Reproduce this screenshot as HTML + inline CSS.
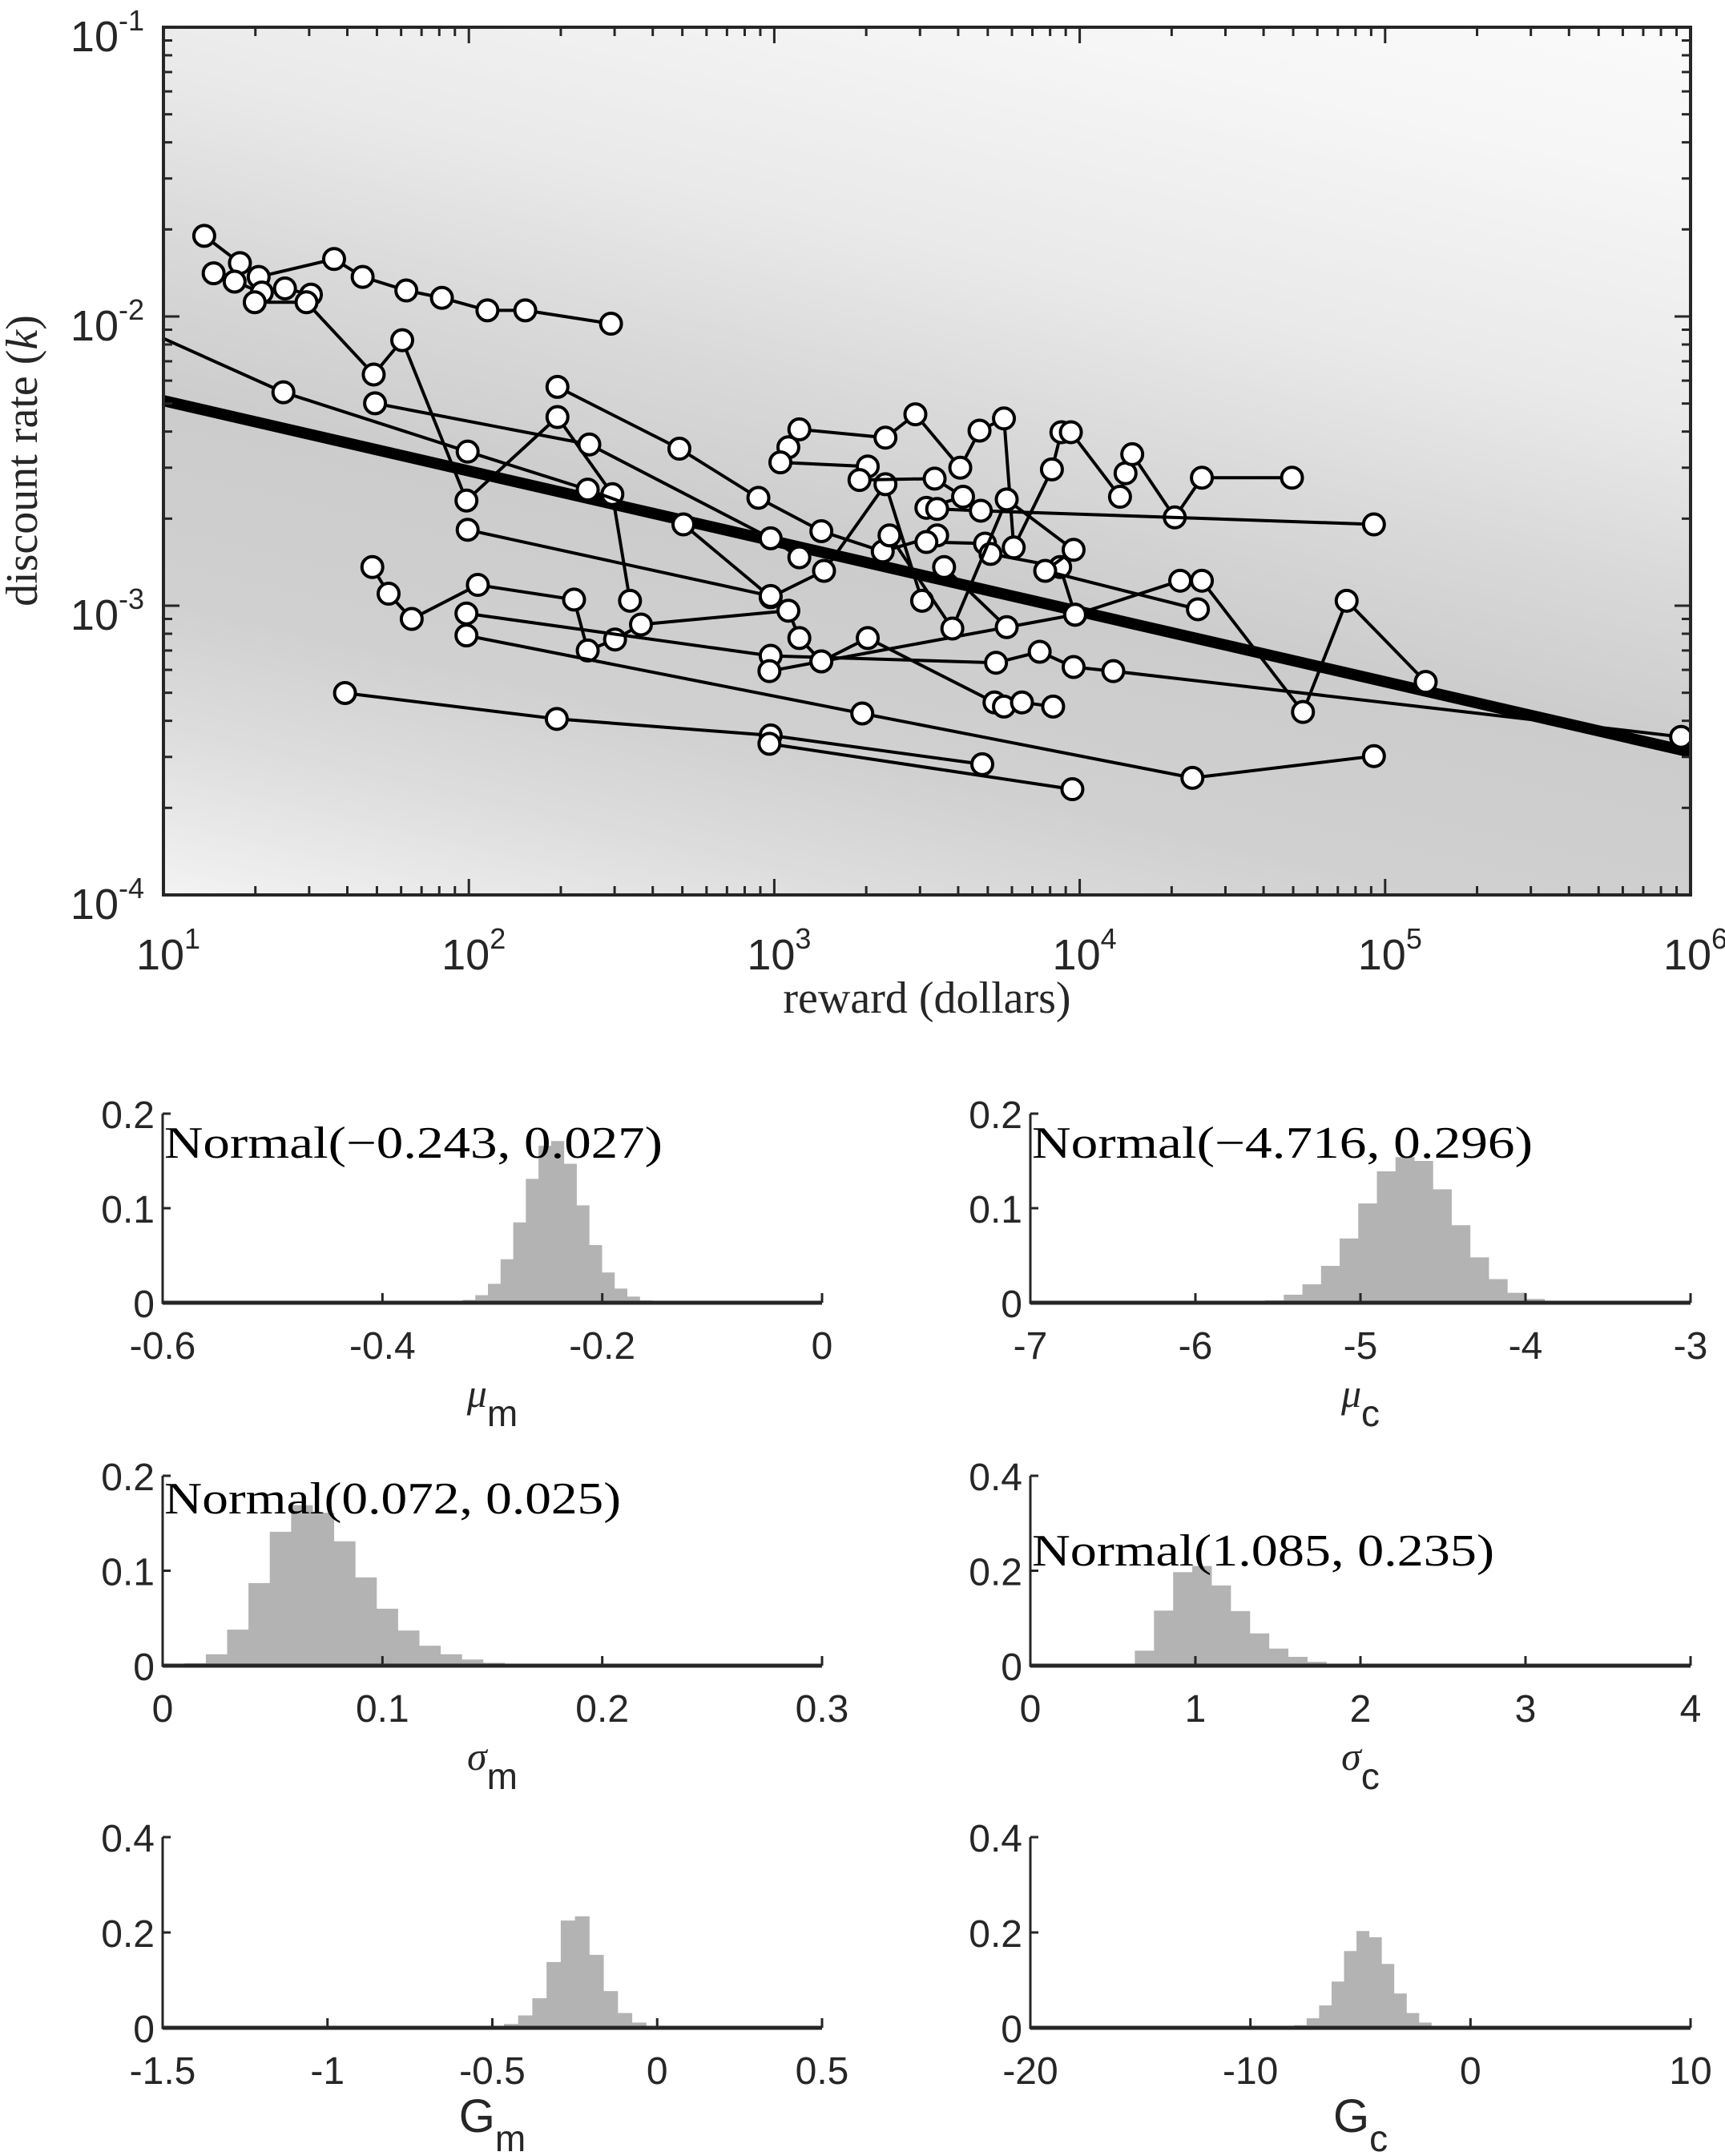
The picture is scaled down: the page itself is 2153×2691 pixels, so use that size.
<!DOCTYPE html>
<html><head><meta charset="utf-8"><style>
html,body{margin:0;padding:0;background:#fff;}
svg{display:block;}
</style></head><body>
<svg id="fig" xmlns="http://www.w3.org/2000/svg" width="2153" height="2691" viewBox="0 0 2153 2691">
<defs>
<clipPath id="mainClip"><rect x="204" y="34" width="1906" height="1083"/></clipPath>
<linearGradient id="bandGrad" gradientUnits="userSpaceOnUse" x1="1381" y1="-255" x2="933" y2="1695">
<stop offset="0" stop-color="#fdfdfd"/><stop offset="0.15" stop-color="#f6f6f6"/>
<stop offset="0.3" stop-color="#e9e9e9"/><stop offset="0.4" stop-color="#d9d9d9"/>
<stop offset="0.5" stop-color="#cccccc"/><stop offset="0.62" stop-color="#d0d0d0"/>
<stop offset="0.7" stop-color="#dddddd"/><stop offset="0.77" stop-color="#ececec"/>
<stop offset="0.82" stop-color="#f7f7f7"/><stop offset="1" stop-color="#ffffff"/>
</linearGradient>
</defs>
<g id="main"></g>
<g id="hists"></g>
</svg>
<script>
// ---- main plot data ----
const meanSlope = -0.243;
const meanIntercept = -4.716; // natural log units
const seriesRewards = [
 [13.6,17.8,20.5,36.2,44.9,62.4,81.6,115,153,292],
 [14.6,17.1,21.0,25.0,30.4],
 [19.9,29.4,48.8,60.5,98.2,195,295,337],
 [7.98,24.7,99.1,245,504,973,1455,2312,3048],
 [49.3,248,973,1208],
 [1208,2312,2897,4064,4699,5649,6081,8110,8710],
 [9355,13550,14130,14860,20470,25120,49550],
 [195,489,887,1426,2265,3414,3148,4898,5105,8630,9660],
 [99.1,973],
 [48.3,54.6,65.0,107,221,245,301,366,1112,1208,1426,2023,5260,5649,6471,8185],
 [98.2,973,5321,7396,9550,12880,931000],
 [964,1426,9660,21330,25120,53830,74820,135800],
 [98.2,1941,23390,91900],
 [39.3,194,973,4797],
 [964,9462],
 [1112,1047,2023,1901,3350,4150,3148,3414,4744,91900],
 [2384,3828,5768,9550,7709,24380],
 [3597,5768]
];
const seriesK = [
 [.0190,.0153,.0137,.0158,.0137,.0123,.0116,.0105,.0105,.00944],
 [.0141,.0132,.0121,.0125,.0119],
 [.0112,.0112,.00630,.00828,.00231,.00449,.00243,.00104],
 [.00934,.00547,.00341,.00252,.00191,.00107,.00132,.00263,.00104],
 [.00501,.00361,.00171,.00147],
 [.00407,.00381,.00459,.00300,.00403,.00444,.00159,.00296,.00398],
 [.00398,.00238,.00287,.00334,.00202,.00277,.00277],
 [.00571,.00349,.00236,.00181,.00154,.00175,.00166,.00164,.00151,.00136,.000931],
 [.00183,.00108],
 [.00136,.00110,.000900,.00118,.00105,.000700,.000764,.000861,.000961,.000773,.000642,.000773,.000463,.000448,.000463,.000448],
 [.000940,.000671,.000635,.000693,.000614,.000594,.000352],
 [.000594,.000642,.000931,.00122,.00122,.000429,.00104,.000545],
 [.000789,.000424,.000254,.000302],
 [.000499,.000406,.000356,.000283],
 [.000333,.000232],
 [.00353,.00313,.00303,.00272,.00275,.00238,.00218,.00216,.00213,.00191],
 [.00175,.000834,.00233,.00156,.00132,.000972],
 [.00136,.000843]
];
const xTickExps = [1,2,3,4,5,6];
const yTickExps = [-1,-2,-3,-4];

// ---- histogram data ----
const histNames = ["mu-m","mu-c","sigma-m","sigma-c","g-m","g-c"];
const histXMin = [-0.6,-7,0,0,-1.5,-20];
const histXMax = [0,-3,0.3,4,0.5,10];
const histYMax = [0.2,0.2,0.2,0.4,0.4,0.4];
const histXTicks = [[-0.6,-0.4,-0.2,0],[-7,-6,-5,-4,-3],[0,0.1,0.2,0.3],[0,1,2,3,4],[-1.5,-1,-0.5,0,0.5],[-20,-10,0,10]];
const histYTicks = [[0,0.1,0.2],[0,0.1,0.2],[0,0.1,0.2],[0,0.2,0.4],[0,0.2,0.4],[0,0.2,0.4]];
const histBinStart = [-0.327,-5.690,0.00995,0.633,-0.508,-8.01];
const histBinWidth = [0.0115,0.1128,0.0097,0.116,0.0431,0.566];
const histCounts = [
 [0.003,0.008,0.020,0.046,0.085,0.131,0.166,0.171,0.147,0.103,0.061,0.032,0.015,0.0065,0.0024],
 [0.0006,0.0025,0.0085,0.0195,0.039,0.068,0.105,0.139,0.154,0.150,0.120,0.082,0.048,0.025,0.0105,0.004,0.001],
 [0.0025,0.012,0.038,0.087,0.141,0.169,0.161,0.131,0.093,0.060,0.037,0.021,0.012,0.0065,0.003,0.001],
 [0.0315,0.116,0.197,0.210,0.169,0.115,0.068,0.036,0.0186,0.008,0.0034,0.001],
 [0.002,0.008,0.026,0.062,0.138,0.225,0.234,0.153,0.077,0.031,0.011,0.003],
 [0.0056,0.020,0.047,0.097,0.161,0.203,0.190,0.134,0.072,0.031,0.011,0.0034]
];
const histAnnot = ["Normal(\u22120.243, 0.027)","Normal(\u22124.716, 0.296)","Normal(0.072, 0.025)","Normal(1.085, 0.235)","",""];
const histLabelMain = ["\u03bc","\u03bc","\u03c3","\u03c3","G","G"];
const histLabelSub = ["m","c","m","c","m","c"];

const NS = "http://www.w3.org/2000/svg";
function mk(tag, attrs, parent){
  const e = document.createElementNS(NS, tag);
  for (const k in attrs) e.setAttribute(k, attrs[k]);
  if (parent) parent.appendChild(e);
  return e;
}
const AX = "#262626";
const SANS = "'Liberation Sans', Arial, sans-serif";
const SERIF = "'Liberation Serif', 'Times New Roman', serif";

// ---- main plot ----
const L=204, R=2110, T=34, B=1117;
const X = r => L + (Math.log10(r) - 1) / 5 * (R - L);
const Y = k => T + (-1 - Math.log10(k)) / 3 * (B - T);
const main = document.getElementById('main');

const bg = mk('rect', {x:L, y:T, width:R-L, height:B-T, fill:'url(#bandGrad)'}, main);



const clipG = mk('g', {'clip-path':'url(#mainClip)'}, main);



const kAt = r => Math.pow(10, meanIntercept / Math.LN10 + meanSlope * Math.log10(r));
const mline = mk('line', {x1:X(10), y1:Y(kAt(10)), x2:X(1e6), y2:Y(kAt(1e6)), stroke:'#000', 'stroke-width':14}, clipG);



seriesRewards.forEach((rs, i) => {
  const ks = seriesK[i];
  const g = mk('g', {}, clipG);
  
  
  const pts = rs.map((r, j) => X(r).toFixed(1) + ',' + Y(ks[j]).toFixed(1)).join(' ');
  const pl = mk('polyline', {points:pts, fill:'none', stroke:'#000', 'stroke-width':4}, g);
  
  
  rs.forEach((r, j) => {
    if (r < 10) return;
    const c = mk('circle', {cx:X(r), cy:Y(ks[j]), r:13, fill:'#fff', stroke:'#000', 'stroke-width':4}, g);
    
    
  });
});

const frame = mk('rect', {x:L, y:T, width:R-L, height:B-T, fill:'none', stroke:AX, 'stroke-width':4}, main);


const ticks = mk('g', {stroke:AX, 'stroke-width':3}, main);


for (let e = 1; e <= 6; e++) {
  for (let m = 1; m <= 9; m++) {
    const v = m * Math.pow(10, e);
    if (e === 6 && m > 1) continue;
    const x = X(v), len = m === 1 ? 20 : 11;
    mk('line', {x1:x, y1:B, x2:x, y2:B-len}, ticks);
    mk('line', {x1:x, y1:T, x2:x, y2:T+len}, ticks);
  }
}
for (let e = -4; e <= -1; e++) {
  for (let m = 1; m <= 9; m++) {
    const v = m * Math.pow(10, e);
    if (e === -1 && m > 1) continue;
    const y = Y(v), len = m === 1 ? 20 : 11;
    mk('line', {x1:L, y1:y, x2:L+len, y2:y}, ticks);
    mk('line', {x1:R, y1:y, x2:R-len, y2:y}, ticks);
  }
}
xTickExps.forEach(e => {
  const t = mk('text', {x:X(Math.pow(10,e)) + 6, y:1210, 'text-anchor':'middle', 'font-family':SANS, 'font-size':54, fill:AX}, main);
  
  
  t.appendChild(document.createTextNode('10'));
  const s = mk('tspan', {dy:-26, 'font-size':36}, t);
  s.textContent = String(e);
});
yTickExps.forEach(e => {
  const t = mk('text', {x:180, y:Y(Math.pow(10,e)) + 30, 'text-anchor':'end', 'font-family':SANS, 'font-size':54, fill:AX}, main);
  
  
  t.appendChild(document.createTextNode('10'));
  const s = mk('tspan', {dy:-26, 'font-size':36}, t);
  s.textContent = String(e);
});
const xl = mk('text', {x:1157, y:1264, 'text-anchor':'middle', 'font-family':SERIF, 'font-size':56, fill:AX}, main);


xl.textContent = 'reward (dollars)';
const yl = mk('text', {x:0, y:0, 'text-anchor':'middle', 'font-family':SERIF, 'font-size':56, fill:AX, transform:'translate(46,575) rotate(-90)'}, main);


yl.appendChild(document.createTextNode('discount rate ('));
const yk = mk('tspan', {'font-style':'italic'}, yl); yk.textContent = 'k';
yl.appendChild(document.createTextNode(')'));

// ---- histograms ----
const hists = document.getElementById('hists');
const colL = [203, 1286], colR = [1026, 2110];
const rowT = [1390, 1842, 2293], rowB = [1626, 2079, 2531];
const annotBase = [1445, 1445, 1889, 1954];
const annotLen = [622, 625, 570, 577];
histNames.forEach((nm, i) => {
  const col = i % 2, row = Math.floor(i / 2);
  const l = colL[col], r = colR[col], t = rowT[row], b = rowB[row];
  const hx = v => l + (v - histXMin[i]) / (histXMax[i] - histXMin[i]) * (r - l);
  const hy = v => b - v / histYMax[i] * (b - t);
  const g = mk('g', {}, hists);
  
  
  histCounts[i].forEach((c, j) => {
    const x0 = hx(histBinStart[i] + j * histBinWidth[i]);
    const x1 = hx(histBinStart[i] + (j + 1) * histBinWidth[i]);
    const bar = mk('rect', {x:x0, y:hy(c), width:x1 - x0 + 0.5, height:b - hy(c), fill:'#b3b3b3'}, g);
    
    
  });
  const ax = mk('path', {d:`M${l},${t} L${l},${b} L${r},${b}`, fill:'none', stroke:AX, 'stroke-width':3}, g);
  
  
  const bx = mk('line', {x1:l, y1:b, x2:r, y2:b, stroke:AX, 'stroke-width':5}, g);
  
  
  histXTicks[i].forEach(v => {
    mk('line', {x1:hx(v), y1:b, x2:hx(v), y2:b - 12, stroke:AX, 'stroke-width':3}, g);
    const tl = mk('text', {x:hx(v), y:b + 70, 'text-anchor':'middle', 'font-family':SANS, 'font-size':48, fill:AX}, g);
    
    
    tl.textContent = String(v);
  });
  histYTicks[i].forEach(v => {
    mk('line', {x1:l, y1:hy(v), x2:l + 10, y2:hy(v), stroke:AX, 'stroke-width':3}, g);
    const tl = mk('text', {x:l - 10, y:hy(v) + 18, 'text-anchor':'end', 'font-family':SANS, 'font-size':48, fill:AX}, g);
    
    
    tl.textContent = String(v);
  });
  const lab = mk('text', {x:(l + r) / 2, y:b + 130, 'text-anchor':'middle', 'font-family':SANS, 'font-size':50, fill:AX}, g);
  
  
  const isG = histLabelMain[i] === 'G';
  const m1 = mk('tspan', {'font-style': isG ? 'normal' : 'italic', 'font-family': isG ? SANS : SERIF, 'font-size': isG ? 58 : 50}, lab);
  m1.textContent = histLabelMain[i];
  const m2 = mk('tspan', {dy:24, 'font-size':46}, lab);
  m2.textContent = histLabelSub[i];
  if (histAnnot[i]) {
    const a = mk('text', {x:l + 2, y:annotBase[i], 'font-family':SERIF, 'font-size':56, fill:'#000', textLength:annotLen[i], lengthAdjust:'spacingAndGlyphs'}, g);
    
    
    a.textContent = histAnnot[i];
  }
});
</script>
</body></html>
